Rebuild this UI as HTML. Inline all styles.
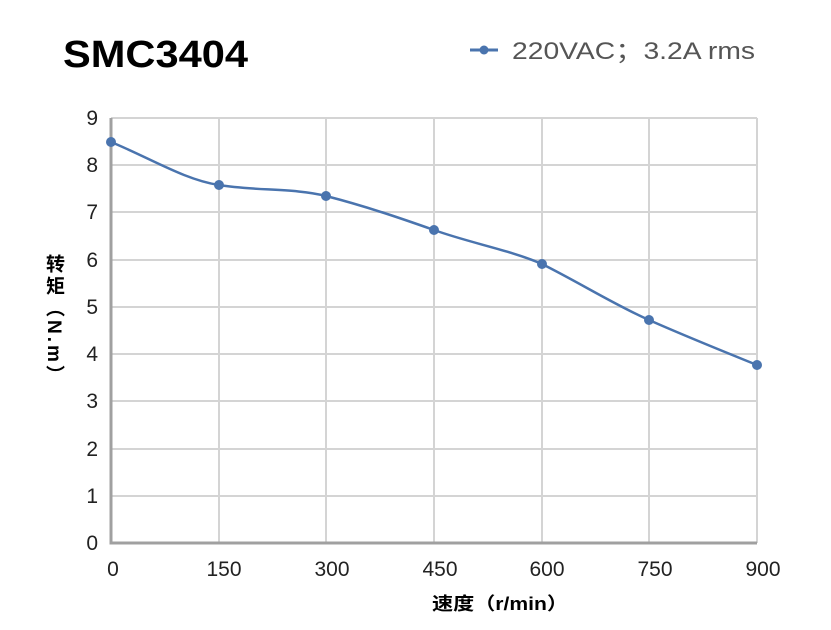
<!DOCTYPE html>
<html><head><meta charset="utf-8"><style>
html,body{margin:0;padding:0;background:#fff;width:831px;height:630px;overflow:hidden}
.ylab{position:absolute;left:40px;top:254px;writing-mode:vertical-rl;font:bold 19px "Liberation Sans","Noto Sans CJK SC",sans-serif;color:#000;letter-spacing:3px}
</style></head><body>
<svg width="831" height="630" style="position:absolute;left:0;top:0" font-family="'Liberation Sans','Noto Sans CJK SC',sans-serif">
<text x="63" y="67" font-size="38" font-weight="bold" fill="#000" textLength="185" lengthAdjust="spacingAndGlyphs">SMC3404</text>
<line x1="470" y1="50" x2="498" y2="50" stroke="#4a74ae" stroke-width="3"/>
<circle cx="484" cy="50" r="4.5" fill="#4a74ae"/>
<text x="512" y="59" font-size="24" fill="#555" textLength="243" lengthAdjust="spacingAndGlyphs">220VAC；3.2A rms</text>
<g stroke="#d4d4d4" stroke-width="2">
<line x1="111" y1="118" x2="757" y2="118"/><line x1="111" y1="165" x2="757" y2="165"/>
<line x1="111" y1="212" x2="757" y2="212"/><line x1="111" y1="260" x2="757" y2="260"/>
<line x1="111" y1="307" x2="757" y2="307"/><line x1="111" y1="354" x2="757" y2="354"/>
<line x1="111" y1="401" x2="757" y2="401"/><line x1="111" y1="449" x2="757" y2="449"/>
<line x1="111" y1="496" x2="757" y2="496"/>
<line x1="219" y1="118" x2="219" y2="543"/><line x1="326" y1="118" x2="326" y2="543"/>
<line x1="434" y1="118" x2="434" y2="543"/><line x1="542" y1="118" x2="542" y2="543"/>
<line x1="649" y1="118" x2="649" y2="543"/><line x1="757" y1="118" x2="757" y2="543"/>
</g>
<path d="M111,118 V543 H757" fill="none" stroke="#a0a0a0" stroke-width="3"/>
<g font-size="21" fill="#222" text-anchor="end">
<text x="98" y="125">9</text><text x="98" y="172">8</text><text x="98" y="219">7</text>
<text x="98" y="267">6</text><text x="98" y="314">5</text><text x="98" y="361">4</text>
<text x="98" y="408">3</text><text x="98" y="456">2</text><text x="98" y="503">1</text><text x="98" y="550">0</text>
</g>
<g font-size="21" fill="#222" text-anchor="middle">
<text x="113" y="576">0</text><text x="224" y="576">150</text><text x="332" y="576">300</text>
<text x="440" y="576">450</text><text x="547" y="576">600</text><text x="655" y="576">750</text><text x="763" y="576">900</text>
</g>
<text x="432" y="610" font-size="18" font-weight="bold" fill="#000" textLength="136" lengthAdjust="spacingAndGlyphs">速度（r/min）</text>
<path d="M111,142 C150,158 185,180 219,185 C255,191 295,188 326,196 C365,206 400,218 434,230 C470,243 510,250 542,264 C580,283 615,305 649,320 C685,336 720,350 757,365" fill="none" stroke="#4a74ae" stroke-width="2.5"/>
<g fill="#4a74ae">
<circle cx="111" cy="142" r="5"/><circle cx="219" cy="185" r="5"/><circle cx="326" cy="196" r="5"/>
<circle cx="434" cy="230" r="5"/><circle cx="542" cy="264" r="5"/><circle cx="649" cy="320" r="5"/><circle cx="757" cy="365" r="5"/>
</g>
</svg>
<div class="ylab">转矩（N.m）</div>
</body></html>
